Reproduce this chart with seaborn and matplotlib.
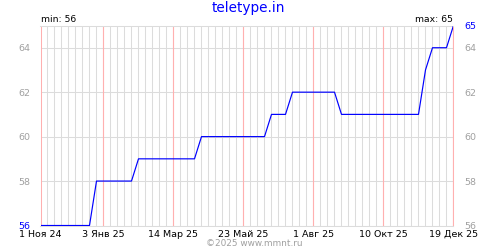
import matplotlib
matplotlib.use("Agg")
import matplotlib.pyplot as plt
import matplotlib.dates as mdates
import seaborn as sns
import pandas as pd
import numpy as np

# Data (weekly values, starting 1 Nov 2024)
start_date = "2024-11-01"
end_date = "2025-12-19"
values = [56, 56, 56, 56, 56, 56, 56, 56,
          58, 58, 58, 58, 58, 58,
          59, 59, 59, 59, 59, 59, 59, 59, 59,
          60, 60, 60, 60, 60, 60, 60, 60, 60, 60,
          61, 61, 61,
          62, 62, 62, 62, 62, 62, 62,
          61, 61, 61, 61, 61, 61, 61, 61, 61, 61, 61, 61,
          63,
          64, 64, 64,
          65]
major_dates = ["2024-11-01", "2025-01-03", "2025-03-14", "2025-05-23",
               "2025-08-01", "2025-10-10", "2025-12-19"]
x_labels = ["1 Ноя 24", "3 Янв 25", "14 Мар 25", "23 Май 25",
            "1 Авг 25", "10 Окт 25", "19 Дек 25"]
y_ticks = [56, 58, 60, 62, 64]
right_ticks = [56, 58, 60, 62, 64, 65]
title = "teletype.in"
credit = "©2025 www.mmnt.ru"

dates = pd.date_range(start_date, periods=len(values), freq="7D")
df = pd.DataFrame({"date": dates, "value": values})

sns.set_theme(style="white")
plt.rcParams["font.family"] = ["DejaVu Sans"]

fig = plt.figure(figsize=(5, 2.5), dpi=100)
ax = fig.add_axes([40.5 / 500, (250 - 225.5) / 250, 413 / 500, 200 / 250])

grid_gray = "#dcdcdc"
grid_red = "#ffb0b0"
lbl_gray = "#a0a0a0"
blue = "#0000ff"
fs = 6.4
lw = 0.75

sns.lineplot(data=df, x="date", y="value", ax=ax, color=blue, linewidth=0.85, zorder=5)

# grid (set after the plot so seaborn cannot reset the locators)
major_ts = pd.to_datetime(major_dates)
major_set = set(major_ts)
week_ticks = [d for d in pd.date_range(start_date, end_date, freq="7D") if d not in major_set]
for d in week_ticks:
    ax.axvline(d, color=grid_gray, linewidth=lw, zorder=1)
for y in y_ticks:
    ax.axhline(y, color=grid_gray, linewidth=lw, zorder=1.5)
for d in major_ts:
    ax.axvline(d, color=grid_red, linewidth=lw * 1.1, zorder=2)

ax.set_xticks(mdates.date2num(major_ts))
ax.set_xticklabels(x_labels)
ax.set_yticks(y_ticks)
ax.grid(False)

ax.set_xlim(mdates.date2num(pd.Timestamp(start_date)), mdates.date2num(pd.Timestamp(end_date)))
ax.set_ylim(56, 65)
ax.set_xlabel("")
ax.set_ylabel("")

for s in ["left", "right"]:
    ax.spines[s].set_color(grid_red)
    ax.spines[s].set_linewidth(lw)
for s in ["top", "bottom"]:
    ax.spines[s].set_color(grid_gray)
    ax.spines[s].set_linewidth(lw)

ax.tick_params(axis="x", which="both", length=0, pad=3, labelsize=fs + 0.4, colors="black")
ax.tick_params(axis="y", which="both", length=0, pad=7, labelsize=fs + 0.4, labelcolor=lbl_gray)
for lab in ax.get_yticklabels():
    if lab.get_text() == "56":
        lab.set_color(blue)

ax2 = ax.twinx()
ax2.set_ylim(56, 65)
ax2.set_yticks(right_ticks)
ax2.set_yticklabels([str(t) for t in right_ticks])
ax2.tick_params(axis="y", length=0, pad=8, labelsize=fs + 0.4, labelcolor=lbl_gray)
for lab in ax2.get_yticklabels():
    if lab.get_text() == "65":
        lab.set_color(blue)
for s in ax2.spines.values():
    s.set_visible(False)
ax2.grid(False)

fig.text(0.497, 1 - 8 / 250, title, ha="center", va="center", color=blue, fontsize=9.8)
fig.text(41 / 500, 1 - 19 / 250, "min: 56", ha="left", va="center", color="black", fontsize=fs + 0.3)
fig.text(453 / 500, 1 - 19 / 250, "max: 65", ha="right", va="center", color="black", fontsize=fs + 0.3)
fig.text(254 / 500, 1 - 243 / 250, credit, ha="center", va="center", color=lbl_gray, fontsize=fs)

fig.savefig("out.png", dpi=100, facecolor="white")
